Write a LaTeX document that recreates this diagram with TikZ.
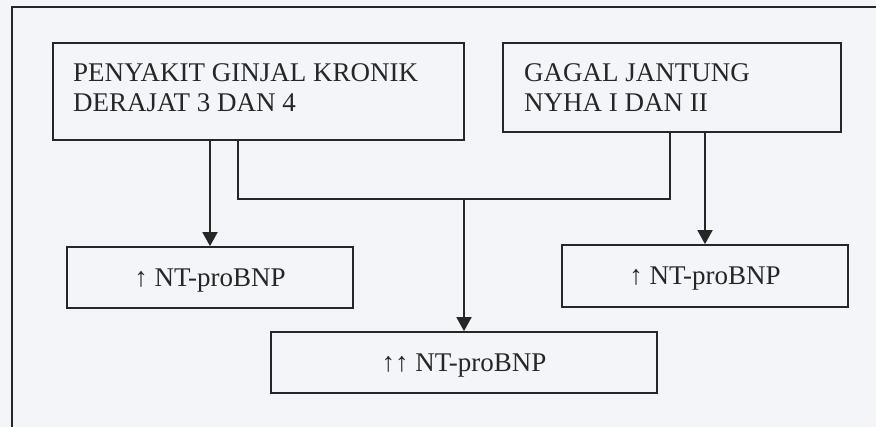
\documentclass[tikz,border=0pt]{standalone}
\usepackage{fontspec}
\setmainfont{Liberation Serif}
\usetikzlibrary{arrows.meta,calc}
\definecolor{paper}{HTML}{F4F5F9}
\definecolor{ink}{HTML}{262626}
\begin{document}
\begin{tikzpicture}[x=1pt,y=-1pt,
  every node/.style={text=ink,font=\fontsize{27}{30}\selectfont},
  line/.style={draw=ink,line width=1.7pt},
  box/.style={line,rectangle,inner sep=0pt},
  lvl/.style={box,text height=18pt,text depth=0pt},
  arr/.style={line,-{Triangle[width=15pt,length=14pt]}}]
  \useasboundingbox (0,0) rectangle (876,427);
  \clip (0,0) rectangle (876,427);
  \fill[paper] (0,0) rectangle (876,427);
  % outer frame
  \draw[line] (12,450) -- (12,7) -- (900,7);

  % source conditions
  \node[box,minimum width=411pt,minimum height=97pt] (b1) at (258.5,91.5) {};
  \node[anchor=north west,inner sep=0pt,align=left] (t1) at (73,63)
    {PENYAKIT GINJAL KRONIK\\DERAJAT 3 DAN 4};
  \node[box,minimum width=338pt,minimum height=89pt] (b2) at (672,87.5) {};
  \node[anchor=north west,inner sep=0pt,align=left] (t2) at (524,63)
    {GAGAL JANTUNG\\NYHA I DAN II};

  % resulting levels
  \node[lvl,minimum width=286pt,minimum height=61pt] (b3) at (210,277.5) {↑ NT-proBNP};
  \node[lvl,minimum width=286pt,minimum height=62pt] (b4) at (705,276) {↑ NT-proBNP};
  \node[lvl,minimum width=386pt,minimum height=61pt] (b5) at (464,362.5) {↑↑ NT-proBNP};

  % connectors
  \coordinate (jl) at (238,199);
  \coordinate (jr) at (670,199);
  \draw[arr] (b3.north |- b1.south) -- (b3.north);
  \draw[arr] (b4.north |- b2.south) -- (b4.north);
  \draw[line] (b1.south -| jl) -- (jl) -- (jr) -- (b2.south -| jr);
  \draw[arr] (b5.north |- jl) -- (b5.north);
\end{tikzpicture}
\end{document}
